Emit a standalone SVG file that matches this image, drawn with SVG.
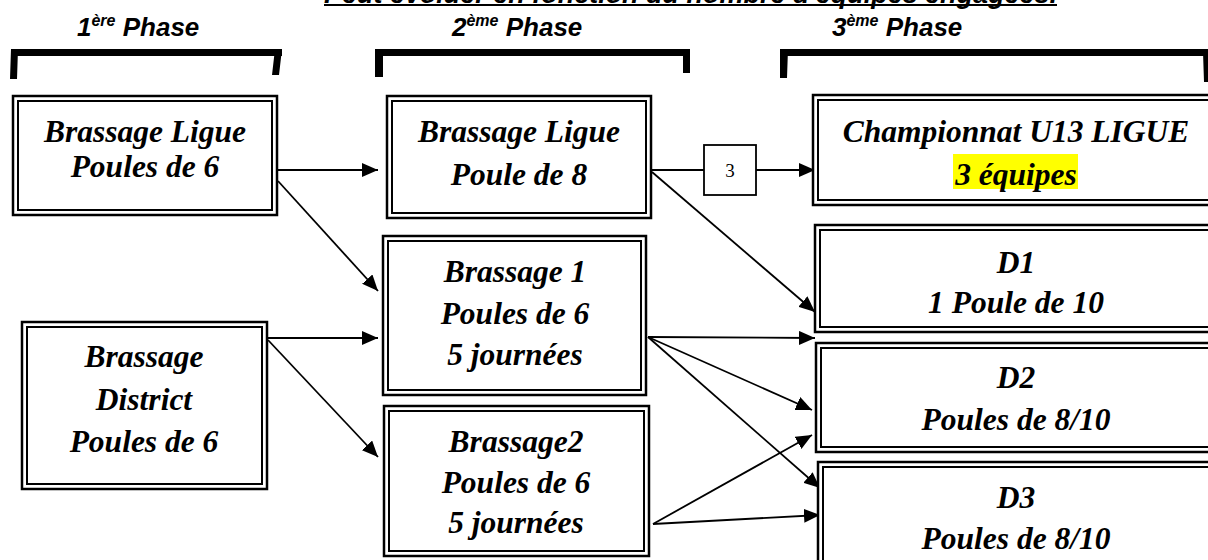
<svg xmlns="http://www.w3.org/2000/svg" width="1208" height="560" viewBox="0 0 1208 560">
<style>
.bg{fill:#fff}
.outer{fill:#fff;stroke:#000;stroke-width:2.5}
.inner{fill:none;stroke:#000;stroke-width:2}
.lbl{font-family:"Liberation Serif","Times New Roman",serif;font-weight:bold;font-style:italic;font-size:31.5px;fill:#000;text-anchor:middle}
.phase{font-family:"Liberation Sans",Arial,sans-serif;font-weight:bold;font-style:italic;font-size:26px;fill:#000}
.title{font-family:"Liberation Sans",Arial,sans-serif;font-weight:bold;font-style:italic;font-size:27px;fill:#000}
.con{fill:none;stroke:#000;stroke-width:1.8}
.brk{fill:#000}
</style>
<defs>
<marker id="arr" markerUnits="userSpaceOnUse" markerWidth="17" markerHeight="14" refX="16" refY="7" orient="auto">
<path d="M0,0 L16,7 L0,14 z" fill="#000"/>
</marker>
</defs>
<rect class="bg" x="0" y="0" width="1208" height="560"/>

<g id="title">
<text class="title" x="324" y="2.5" textLength="733" lengthAdjust="spacingAndGlyphs">Peut évoluer en fonction du nombre d'équipes engagées.</text>
<line x1="324" y1="5" x2="1057" y2="5" stroke="#000" stroke-width="2.2"/>
</g>

<g id="phase1">
<text class="phase" x="77" y="36">1<tspan font-size="16" dy="-10">ère</tspan><tspan dy="10"> Phase</tspan></text>
<path class="brk" d="M11,49 H282 V56 H11 z M11,49 L18,49 L17,79 L10,79 z M275,49 L282,49 L279,75 L272,75 z"/>
</g>
<g id="phase2">
<text class="phase" x="452" y="36">2<tspan font-size="16" dy="-10">ème</tspan><tspan dy="10"> Phase</tspan></text>
<path class="brk" d="M375,49 H690 V56 H375 z M375,49 L383,49 L383,77 L375,77 z M683,49 L690,49 L690,73 L683,73 z"/>
</g>
<g id="phase3">
<text class="phase" x="832" y="36">3<tspan font-size="16" dy="-10">ème</tspan><tspan dy="10"> Phase</tspan></text>
<path class="brk" d="M780,49 H1210 V56 H780 z M780,49 L788,49 L787,78 L780,78 z M1203,52 L1210,52 L1210,82 L1204,82 z"/>
</g>

<g id="connectors">
<line class="con" x1="278" y1="170" x2="378" y2="170" marker-end="url(#arr)"/>
<line class="con" x1="278" y1="181" x2="378" y2="291" marker-end="url(#arr)"/>
<line class="con" x1="268" y1="338" x2="378" y2="338" marker-end="url(#arr)"/>
<line class="con" x1="268" y1="340" x2="378" y2="457" marker-end="url(#arr)"/>
<line class="con" x1="652" y1="170" x2="704" y2="170"/>
<line class="con" x1="756" y1="170" x2="815" y2="170" marker-end="url(#arr)"/>
<line class="con" x1="652" y1="172" x2="815" y2="312" marker-end="url(#arr)"/>
<line class="con" x1="648" y1="337" x2="815" y2="338" marker-end="url(#arr)"/>
<line class="con" x1="648" y1="337" x2="812" y2="410" marker-end="url(#arr)"/>
<line class="con" x1="648" y1="337" x2="820" y2="488" marker-end="url(#arr)"/>
<line class="con" x1="653" y1="524" x2="812" y2="435" marker-end="url(#arr)"/>
<line class="con" x1="653" y1="524" x2="820" y2="515" marker-end="url(#arr)"/>
</g>

<g id="box3">
<rect x="704" y="145" width="52" height="50" fill="#fff" stroke="#000" stroke-width="1.8"/>
<text x="730" y="177" font-family="'Liberation Serif','Times New Roman',serif" font-size="19" text-anchor="middle">3</text>
</g>

<g id="brassage-ligue-6">
<rect class="outer" x="13" y="96" width="264" height="119"/>
<rect class="inner" x="18" y="101" width="254" height="109"/>
<text class="lbl" x="145" y="142">Brassage Ligue</text>
<text class="lbl" x="145" y="177">Poules de 6</text>
</g>

<g id="brassage-district">
<rect class="outer" x="22" y="322" width="245" height="167"/>
<rect class="inner" x="27" y="327" width="235" height="157"/>
<text class="lbl" x="144" y="367">Brassage</text>
<text class="lbl" x="144" y="410">District</text>
<text class="lbl" x="144" y="452">Poules de 6</text>
</g>

<g id="brassage-ligue-8">
<rect class="outer" x="387" y="96" width="264" height="122"/>
<rect class="inner" x="392" y="101" width="254" height="112"/>
<text class="lbl" x="519" y="142">Brassage Ligue</text>
<text class="lbl" x="519" y="185">Poule de 8</text>
</g>

<g id="brassage-1">
<rect class="outer" x="383" y="236" width="263" height="159"/>
<rect class="inner" x="388" y="241" width="253" height="149"/>
<text class="lbl" x="515" y="282">Brassage 1</text>
<text class="lbl" x="515" y="324">Poules de 6</text>
<text class="lbl" x="515" y="365">5 journées</text>
</g>

<g id="brassage-2">
<rect class="outer" x="384" y="406" width="265" height="150"/>
<rect class="inner" x="389" y="411" width="255" height="140"/>
<text class="lbl" x="516" y="452">Brassage2</text>
<text class="lbl" x="516" y="493">Poules de 6</text>
<text class="lbl" x="516" y="533">5 journées</text>
</g>

<g id="championnat">
<rect class="outer" x="813" y="95" width="410" height="110"/>
<rect class="inner" x="818" y="100" width="400" height="100"/>
<text class="lbl" x="1016" y="142">Championnat U13 LIGUE</text>
<rect x="953" y="154" width="125" height="35" fill="#ffff00"/>
<text class="lbl" x="1016" y="185">3 équipes</text>
</g>

<g id="d1">
<rect class="outer" x="815" y="225" width="410" height="107"/>
<rect class="inner" x="820" y="230" width="400" height="97"/>
<text class="lbl" x="1016" y="273">D1</text>
<text class="lbl" x="1016" y="313">1 Poule de 10</text>
</g>

<g id="d2">
<rect class="outer" x="816" y="343" width="410" height="109"/>
<rect class="inner" x="821" y="348" width="400" height="99"/>
<text class="lbl" x="1016" y="388">D2</text>
<text class="lbl" x="1016" y="430">Poules de 8/10</text>
</g>

<g id="d3">
<rect class="outer" x="818" y="462" width="410" height="120"/>
<rect class="inner" x="823" y="467" width="400" height="110"/>
<text class="lbl" x="1016" y="508">D3</text>
<text class="lbl" x="1016" y="549">Poules de 8/10</text>
</g>
</svg>
